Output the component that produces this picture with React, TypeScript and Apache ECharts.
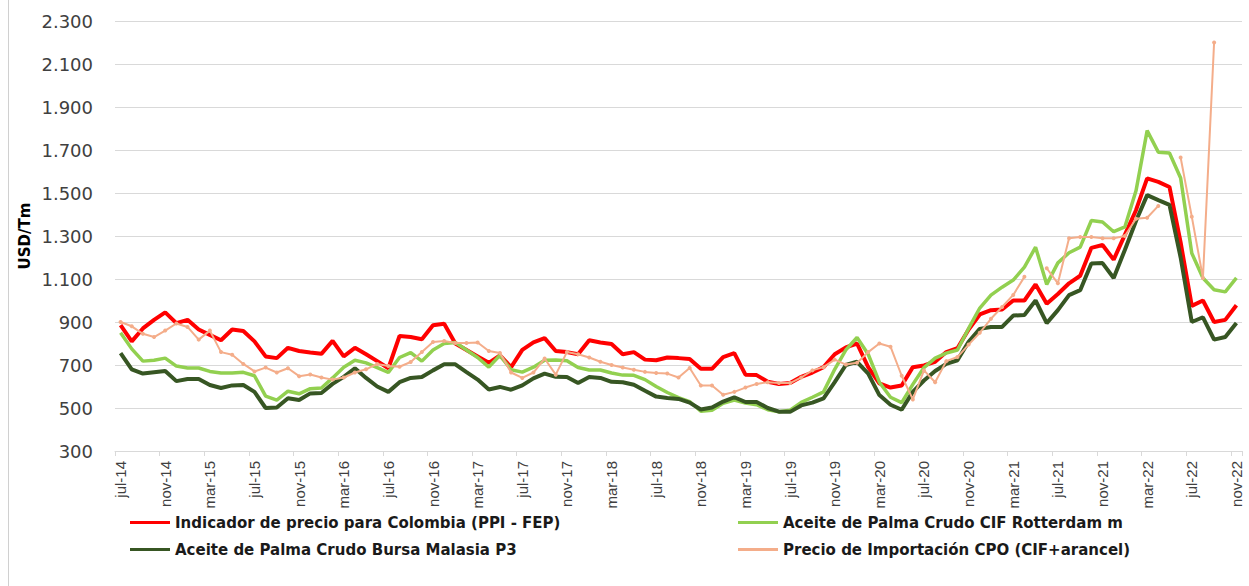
import React, { useEffect, useRef } from "react";
import * as echarts from "echarts";

const monthNames = ["ene", "feb", "mar", "abr", "may", "jun", "jul", "ago", "sep", "oct", "nov", "dic"];
const startYear = 2014;
const startMonth = 6; // jul
const monthCount = 101; // jul-14 .. nov-22

const categories: string[] = [];
for (let k = 0; k < monthCount; k++) {
  const m = (startMonth + k) % 12;
  const y = startYear + Math.floor((startMonth + k) / 12);
  categories.push(`${monthNames[m]}-${String(y).slice(2)}`);
}

const yTicks = [300, 500, 700, 900, 1100, 1300, 1500, 1700, 1900, 2100, 2300];

const ppiColombia = [
  885, 810, 870, 910, 945, 895, 910, 865, 840, 815,
  865, 858, 810, 740, 732, 780, 765, 758, 752, 812,
  740, 780, 750, 718, 685, 835, 830, 820, 885, 892,
  800, 770, 740, 710, 745, 690, 770, 805, 825, 765,
  760, 750, 815, 805, 798, 750, 760, 725, 722, 735,
  732, 728, 682, 682, 737, 755, 655, 653, 622, 612,
  616, 645, 665, 690, 750, 782, 800, 690, 615, 595,
  605, 690, 698, 715, 760, 778, 865, 935, 955, 958,
  1000, 1000, 1075, 985, 1030, 1080, 1115, 1245, 1258, 1190,
  1305, 1420, 1568, 1552, 1528, 1270, 975, 1000, 900, 910, 978,
];

const cifRotterdam = [
  850, 775, 718, 722, 732, 695, 686, 686, 670, 663,
  663, 666, 650, 555, 537, 578, 566, 590, 593, 640,
  690, 722, 710, 688, 665, 735, 758, 718, 770, 800,
  805, 770, 735, 690, 745, 678, 667, 690, 722, 723,
  720, 688, 677, 677, 663, 653, 652, 632, 600, 572,
  548, 530, 485, 490, 522, 537, 523, 515, 492, 483,
  490, 526, 550, 575, 680, 770, 828, 750, 620, 550,
  525, 610, 688, 732, 755, 770, 870, 965, 1025, 1062,
  1095, 1155, 1248, 1075, 1175, 1222, 1248, 1372, 1365, 1320,
  1342, 1510, 1790, 1690, 1686, 1570, 1220, 1105, 1050, 1040, 1105,
];

const bursaMalasia = [
  755, 680, 660, 666, 672, 625, 635, 635, 607, 593,
  605, 607, 575, 500, 502, 545, 537, 568, 570, 612,
  645, 685, 640, 600, 575, 620, 640, 644, 675, 703,
  703, 667, 632, 586, 598, 585, 605, 638, 660, 645,
  644, 616, 644, 640, 622, 620, 608, 580, 553, 547,
  542, 525, 493, 502, 530, 550, 528, 528, 500, 483,
  482, 512, 525, 545, 620, 700, 715, 660, 560, 515,
  492, 575, 628, 672, 705, 722, 808, 868, 877, 877,
  930, 933, 1000, 895, 955, 1025, 1048, 1172, 1174, 1105,
  1235, 1370, 1490, 1467, 1445, 1200, 900, 922, 818, 830, 895,
];

const importacionCPO = [
  900, 880, 845, 830, 860, 893, 877, 818, 860, 760,
  748, 705, 670, 688, 665, 685, 648, 656, 642, 632,
  642, 665, 680, 705, 695, 692, 714, 760, 807, 812,
  802, 802, 805, 765, 756, 665, 640, 665, 730, 655,
  760, 750, 735, 715, 700, 688, 678, 668, 663, 660,
  642, 686, 605, 605, 562, 575, 595, 612, 620, 616,
  616, 642, 675, 690, 725, 702, 710, 760, 800, 785,
  650, 540, 675, 620, 718, 737, 795, 850, 915, 970,
  1026, 1110, null, 1150, 1080, 1290, 1295, 1295, 1290, 1290,
  1300, 1380, 1385, 1440, null, 1665, 1390, 1105, 2200, null, null,
];

const seriesNames = [
  "Indicador de precio para Colombia (PPI - FEP)",
  "Aceite de Palma Crudo CIF Rotterdam m",
  "Aceite de Palma Crudo Bursa Malasia P3",
  "Precio de Importación CPO (CIF+arancel)",
];

const fmt = (v: number) => {
  const s = String(Math.round(v));
  return s.length > 3 ? s.slice(0, s.length - 3) + "." + s.slice(-3) : s;
};

export default function App() {
  const ref = useRef<HTMLDivElement>(null);
  useEffect(() => {
    if (!ref.current) return;
    const chart = echarts.init(ref.current, undefined, { renderer: "svg" });
    const legendText = {
      fontFamily: "DejaVu Sans",
      fontWeight: "bold" as const,
      fontSize: 15,
      color: "#1a1a1a",
    };
    const legendBase = {
      orient: "vertical" as const,
      top: 510,
      itemWidth: 40,
      itemHeight: 3,
      itemGap: 12,
      itemStyle: { borderWidth: 0 },
      textStyle: legendText,
    };
    chart.setOption({
      animation: false,
      backgroundColor: "#ffffff",
      grid: { left: 115, right: 7, top: 21, bottom: 135, containLabel: false },
      legend: [
        {
          ...legendBase,
          left: 125,
          data: [
            { name: seriesNames[0], icon: "rect" },
            { name: seriesNames[2], icon: "rect" },
          ],
        },
        {
          ...legendBase,
          left: 733,
          data: [
            { name: seriesNames[1], icon: "rect" },
            { name: seriesNames[3], icon: "rect" },
          ],
        },
      ],
      xAxis: {
        type: "category",
        data: categories,
        boundaryGap: true,
        axisLine: { lineStyle: { color: "#d9d9d9", width: 1 } },
        axisTick: { show: true, interval: 3, length: 5, lineStyle: { color: "#d9d9d9" } },
        axisLabel: {
          interval: 3,
          rotate: 90,
          margin: 10,
          fontFamily: "Liberation Sans Narrow, Liberation Sans, Arial",
          fontSize: 15,
          color: "#404040",
        },
        splitLine: { show: false },
      },
      yAxis: {
        type: "value",
        min: yTicks[0],
        max: yTicks[yTicks.length - 1],
        interval: 200,
        axisLine: { show: false },
        axisTick: { show: false },
        axisLabel: {
          margin: 22,
          fontFamily: "DejaVu Sans",
          fontSize: 18,
          color: "#404040",
          formatter: (v: number) => fmt(v),
        },
        splitLine: { lineStyle: { color: "#d9d9d9", width: 1 } },
      },
      graphic: [
        {
          type: "line",
          shape: { x1: 8.5, y1: 0, x2: 8.5, y2: 586 },
          style: { stroke: "#d0d0d0", lineWidth: 1 },
        },
        {
          type: "text",
          x: 25,
          y: 236,
          rotation: Math.PI / 2,
          style: {
            text: "USD/Tm",
            fontFamily: "DejaVu Sans",
            fontWeight: "bold",
            fontSize: 15,
            fill: "#000000",
            textAlign: "center",
            textVerticalAlign: "middle",
          },
        },
      ],
      series: [
        {
          name: seriesNames[0],
          type: "line",
          data: ppiColombia,
          symbol: "none",
          lineStyle: { color: "#ff0000", width: 4 },
          itemStyle: { color: "#ff0000" },
          z: 2,
        },
        {
          name: seriesNames[1],
          type: "line",
          data: cifRotterdam,
          symbol: "none",
          lineStyle: { color: "#92d050", width: 3.5 },
          itemStyle: { color: "#92d050" },
          z: 3,
        },
        {
          name: seriesNames[2],
          type: "line",
          data: bursaMalasia,
          symbol: "none",
          lineStyle: { color: "#375623", width: 4 },
          itemStyle: { color: "#375623" },
          z: 4,
        },
        {
          name: seriesNames[3],
          type: "line",
          data: importacionCPO,
          symbol: "circle",
          symbolSize: 4,
          showSymbol: true,
          connectNulls: false,
          lineStyle: { color: "#f4ad8a", width: 2 },
          itemStyle: { color: "#f4ad8a" },
          z: 5,
        },
      ],
    });
    return () => chart.dispose();
  }, []);
  return (
    <div
      ref={ref}
      style={{ position: "fixed", left: 0, top: 0, width: 1249, height: 586, background: "#fff" }}
    />
  );
}
